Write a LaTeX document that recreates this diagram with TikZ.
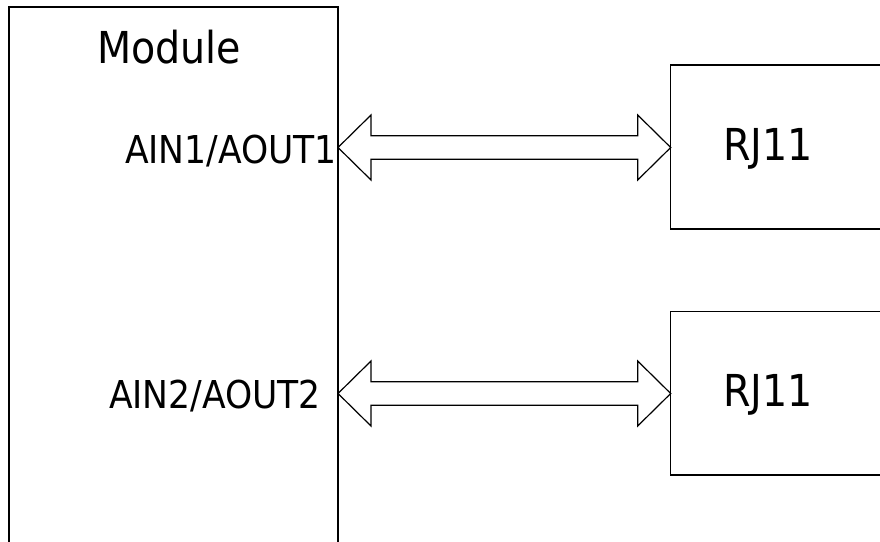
\documentclass[tikz,border=0pt]{standalone}
\usepackage{fontspec}
\setmainfont{DejaVu Sans Condensed}
\usetikzlibrary{calc}
\begin{document}
\begin{tikzpicture}[x=1pt,y=1pt,
  box/.style={draw=black,line width=1.2pt,fill=white},
  dblarrow/.style={draw=black,line width=1.2pt,fill=white,line join=miter},
  bigtext/.style={font=\fontsize{44}{48}\selectfont,inner sep=0pt},
  pintext/.style={font=\fontsize{38.4}{42}\selectfont,inner sep=0pt}]
\useasboundingbox[fill=white] (0,0) rectangle (880,-541);
\begin{scope}
\clip (0,0) rectangle (880,-541);
\draw[box] (9,-7) rectangle (338,-600);
\draw[box] (670.7,-65) rectangle (900,-229);
\draw[box] (670.7,-311.7) rectangle (900,-475);
\coordinate (modE1) at (338,-147.5);
\coordinate (rjW1) at (670.7,-147.5);
\coordinate (modE2) at (338,-393.5);
\coordinate (rjW2) at (670.7,-393.5);
\foreach \l/\r in {modE1/rjW1, modE2/rjW2}{
  \draw[dblarrow] (\l) -- ($(\l)+(33,32.5)$) -- ($(\l)+(33,11.7)$)
     -- ($(\r)+(-33,11.7)$) -- ($(\r)+(-33,32.5)$) -- (\r)
     -- ($(\r)+(-33,-32.5)$) -- ($(\r)+(-33,-11.7)$)
     -- ($(\l)+(33,-11.7)$) -- ($(\l)+(33,-32.5)$) -- cycle;
}
\end{scope}
\node[bigtext,anchor=base west] (module) at (97,-63) {Module};
\node[pintext,anchor=base west] (p1) at (125,-163.3) {AIN1/AOUT1};
\node[pintext,anchor=base west] (p2) at (109,-408.3) {AIN2/AOUT2};
\node[bigtext,anchor=base west] (rj1) at (723,-160.7) {RJ11};
\node[bigtext,anchor=base west] (rj2) at (723,-406.7) {RJ11};
\end{tikzpicture}
\end{document}
